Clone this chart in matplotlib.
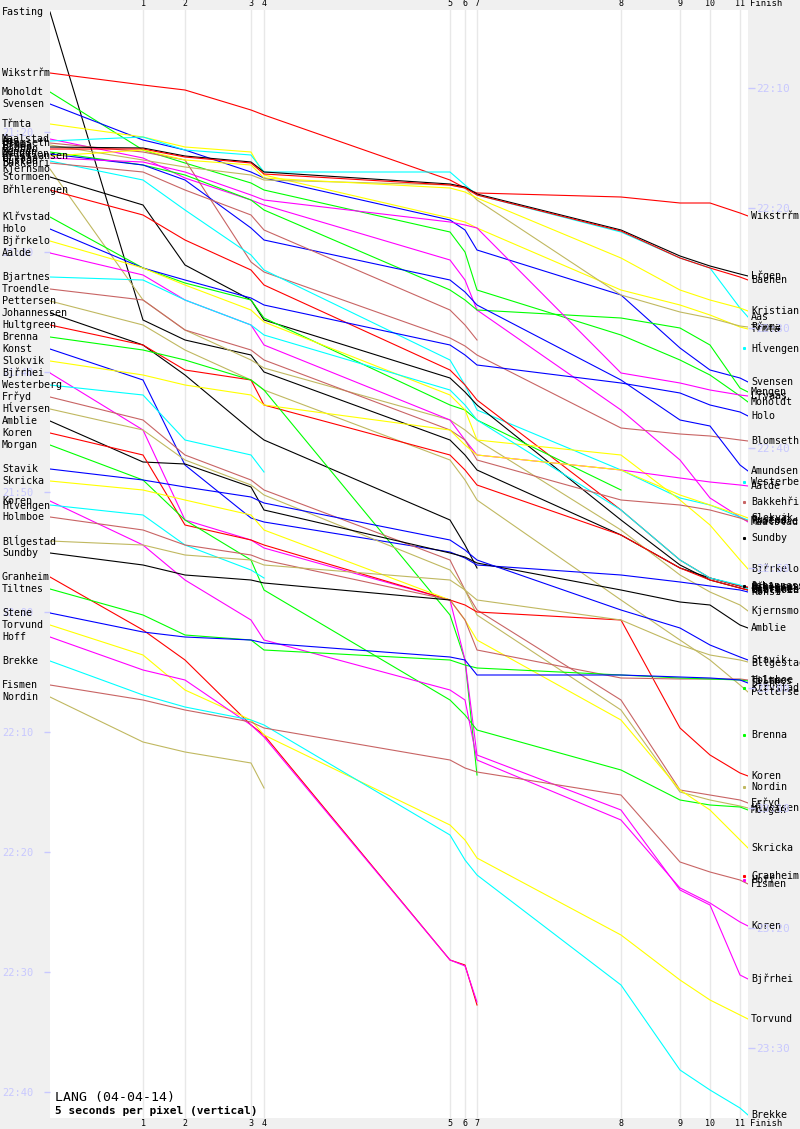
import matplotlib
matplotlib.use("Agg")
import matplotlib.pyplot as plt
from matplotlib.transforms import blended_transform_factory as btf

# ---- data -------------------------------------------------------------
controls = ["Start", "1", "2", "3", "4", "5", "6", "7", "8", "9", "10", "11", "Finish"]
control_pos = [0, 93, 135, 201, 214, 400, 415, 427, 571, 630, 660, 690, 698]

palette = ['#000000', '#ff0000', '#00ff00', '#0000ff', '#ffff00',
           '#ff00ff', '#00ffff', '#c86464', '#c0b860']

names = ["Fasting", "Wikstrřm", "Moholdt", "Svensen", "Třmta",
         "Maalstad", "Aas", "Blomseth", "Rřmma", "Lřgen", "Bachen", "Mengen",
         "Amundsen", "Kristiansen", "Lřvaas", "Rustad", "Bakkehři",
         "Kjernsmo", "Stormoen", "Břhlerengen", "Klřvstad", "Holo", "Bjřrkelo",
         "Aalde", "Bjartnes", "Troendle", "Pettersen", "Johannessen",
         "Hultgreen", "Brenna", "Konst", "Slokvik", "Bjřrhei", "Westerberg",
         "Frřyd", "Hĺversen", "Amblie", "Koren", "Morgan", "Stavik", "Skricka",
         "Koren", "Hĺvengen", "Holmboe", "Blĺgestad", "Sundby", "Granheim",
         "Tiltnes", "Stene", "Torvund", "Hoff", "Brekke", "Fismen", "Nordin"]

# clock time at each control, seconds after 21:09:00 (5 s per pixel)
splits = [
    [60, 1600, 1700, 1775, 1860, 2200, 2275, 2350, 2675, 2840, 2890, 2930, 2940],
    [365, 425, 450, 550, 575, 900, 940, 965, 985, 1015, 1015, 1065, 1080],
    [460, 750, 815, 915, 950, 1160, 1260, 1450, 1675, 1800, 1875, 1980, 2010],
    [520, 700, 750, 860, 890, 1100, 1150, 1250, 1475, 1740, 1850, 1890, 1910],
    [620, 685, 735, 760, 875, 1090, 1110, 1140, 1450, 1525, 1575, 1635, 1645],
    [695, 790, 890, 1000, 1025, 1300, 1400, 1550, 2050, 2300, 2490, 2585, 2610],
    [705, 685, 750, 775, 860, 860, 925, 975, 1160, 1290, 1340, 1540, 1585],
    [715, 760, 800, 1310, 1360, 1690, 1730, 1775, 2140, 2170, 2180, 2200, 2205],
    [725, 800, 835, 875, 900, 925, 940, 1000, 1475, 1560, 1590, 1630, 1635],
    [735, 740, 780, 810, 860, 920, 935, 970, 1150, 1280, 1330, 1370, 1380],
    [745, 745, 785, 815, 870, 925, 940, 975, 1155, 1290, 1340, 1385, 1400],
    [760, 825, 875, 1000, 1050, 1450, 1500, 1550, 1590, 1640, 1725, 1940, 1960],
    [770, 825, 900, 1140, 1200, 1400, 1460, 1525, 1900, 2100, 2130, 2325, 2355],
    [780, 750, 800, 825, 890, 940, 960, 990, 1290, 1450, 1500, 1540, 1555],
    [790, 810, 860, 975, 1000, 1110, 1125, 1140, 1865, 1915, 1950, 1975, 1980],
    [805, 900, 1050, 1275, 1350, 1800, 1925, 2050, 2350, 2490, 2525, 2585, 2600],
    [815, 860, 950, 1075, 1150, 1550, 1625, 1700],
    [845, 1500, 1650, 1800, 1840, 2100, 2150, 2200, 2650, 2875, 2960, 3025, 3055],
    [885, 1025, 1325, 1500, 1600, 1890, 1960, 2025, 2600, 2825, 2900, 2940, 2950],
    [950, 1075, 1200, 1350, 1425, 1850, 1925, 2000, 2550, 2800, 2890, 2930, 2935],
    [1085, 1340, 1415, 1500, 1590, 2025, 2050, 2100, 2450],
    [1145, 1340, 1400, 1490, 1525, 1725, 1775, 1825, 1915, 1965, 2025, 2060, 2080],
    [1205, 1340, 1425, 1550, 1610, 1975, 2050, 2200, 2275, 2500, 2625, 2800, 2845],
    [1265, 1375, 1500, 1625, 1725, 2100, 2200, 2275, 2350, 2390, 2410, 2425, 2430],
    [1385, 1400, 1500, 1625, 1675, 1950, 2025, 2100, 2550, 2800, 2890, 2925, 2945],
    [1445, 1500, 1650, 1750, 1800, 2150, 2200, 2300, 2500, 2525, 2550, 2590, 2605],
    [1505, 1625, 1750, 1900, 1950, 2300, 2400, 2500, 3000, 3200, 3300, 3425, 3460],
    [1565, 1725, 1875, 2150, 2200, 2600, 2725, 2840],
    [1625, 1725, 1850, 1900, 2025, 2275, 2350, 2425, 2675, 2840, 2900, 2940, 2950],
    [1685, 1750, 1800, 1900, 1950, 3075, 3300, 3875],
    [1745, 1900, 2325, 2590, 2610, 2760, 2790, 2825, 2875, 2910, 2930, 2950, 2960],
    [1805, 1875, 1925, 1975, 2025, 2150, 2225, 2275, 2350, 2475, 2525, 2575, 2590],
    [1865, 2150, 2600, 2700, 2740, 3000, 3300, 3775, 4050, 4450, 4525, 4875, 4895],
    [1925, 1975, 2200, 2275, 2360],
    [1985, 2100, 2275, 2400, 2450, 2800, 2950, 3050, 3500, 3950, 3975, 4000, 4015],
    [2045, 2150, 2300, 2425, 2475, 2850, 2950, 3075, 3550, 3960, 4000, 4030, 4040],
    [2105, 2310, 2320, 2435, 2550, 2765, 2785, 2815, 2950, 3010, 3025, 3125, 3140],
    [2165, 2275, 2625, 2700, 2725, 3000, 3025, 3060, 3100, 3640, 3775, 3865, 3880],
    [2225, 2400, 2600, 2800, 2950, 3500, 3575, 3650, 3850, 4000, 4025, 4035, 4050],
    [2345, 2400, 2435, 2485, 2515, 2700, 2750, 2800, 3050, 3140, 3225, 3285, 3300],
    [2405, 2450, 2500, 2575, 2650, 3000, 3100, 3200, 3600, 3950, 4050, 4200, 4240],
    [2505, 2725, 2900, 3100, 3200, 3450, 3500, 3800, 4100, 4440, 4515, 4610, 4630],
    [2525, 2575, 2725, 2850, 2890],
    [2585, 2650, 2725, 2775, 2800, 3000, 3100, 3250, 3390, 3395, 3395, 3395, 3400],
    [2705, 2725, 2775, 2800, 2825, 2900, 2950, 3000, 3100, 3225, 3275, 3300, 3310],
    [2765, 2825, 2875, 2900, 2915, 3000],
    [2885, 3150, 3300, 3625, 3675, 4800, 4825, 5025],
    [2945, 3075, 3175, 3200, 3250, 3300, 3325, 3340, 3375, 3390, 3395, 3400, 3405],
    [3065, 3160, 3185, 3200, 3215, 3285, 3300, 3375, 3375, 3385, 3390, 3400, 3415],
    [3125, 3275, 3450, 3600, 3675, 4125, 4200, 4290, 4675, 4900, 5000, 5075, 5095],
    [3185, 3350, 3400, 3625, 3685, 4800, 4830, 5010],
    [3305, 3475, 3535, 3600, 3625, 4175, 4300, 4375, 4925, 5350, 5450, 5540, 5575],
    [3425, 3500, 3550, 3610, 3640, 3800, 3840, 3860, 3975, 4310, 4360, 4400, 4420],
    [3485, 3710, 3760, 3815, 3940],
]

# right-hand label position for runners who did not finish
dnf_label_time = {"Bakkehři": 2510, "Klřvstad": 3440, "Johannessen": 2930,
                  "Brenna": 3675, "Westerberg": 2410, "Hĺvengen": 1740,
                  "Sundby": 2690, "Granheim": 4380, "Hoff": 4400, "Nordin": 3935}

left_ticks = ["21:20", "21:30", "21:40", "21:50", "22:00", "22:10", "22:20", "22:30", "22:40"]
left_tick_time = [660, 1260, 1860, 2460, 3060, 3660, 4260, 4860, 5460]
right_ticks = ["22:10", "22:20", "22:30", "22:40", "22:50", "23:00", "23:10", "23:20", "23:30"]
right_tick_time = [440, 1040, 1640, 2240, 2840, 3440, 4040, 4640, 5240]

title = "LANG (04-04-14)"
subtitle = "5 seconds per pixel (vertical)"

# ---- figure -----------------------------------------------------------
W, H = 800, 1129
fig = plt.figure(figsize=(W / 100, H / 100), dpi=100, facecolor='#f0f0f0')
ax = fig.add_axes([50 / W, 11 / H, 698 / W, 1108 / H])
ax.set_facecolor('white')
ax.set_xlim(0, 698)
ax.set_ylim(5590, 50)
for s in ax.spines.values():
    s.set_visible(False)

mono = 'DejaVu Sans Mono'
tick_col = '#c8c8ff'

for xp in control_pos[1:-1]:
    ax.axvline(xp, color='#e8e8e8', lw=1.0, zorder=0)

for i, (nm, sp) in enumerate(zip(names, splits)):
    col = palette[i % len(palette)]
    ax.plot(control_pos[:len(sp)], sp, color=col, lw=0.8, zorder=2,
            solid_joinstyle='miter')

ax.set_xticks([])
ax.set_yticks(left_tick_time)
ax.set_yticklabels(left_ticks)
ax.tick_params(axis='y', direction='out', length=4, width=1, color=tick_col,
               labelcolor=tick_col, labelsize=7.5, pad=8)
for lab in ax.get_yticklabels():
    lab.set_family(mono)

axr = ax.twinx()
axr.set_ylim(ax.get_ylim())
for s in axr.spines.values():
    s.set_visible(False)
axr.set_yticks(right_tick_time)
axr.set_yticklabels(right_ticks)
axr.tick_params(axis='y', direction='out', length=5, width=1, color=tick_col,
                labelcolor=tick_col, labelsize=8, pad=1)
for lab in axr.get_yticklabels():
    lab.set_family(mono)

tl = btf(fig.transFigure, ax.transData)
for i, (nm, sp) in enumerate(zip(names, splits)):
    col = palette[i % len(palette)]
    ax.text(2 / W, sp[0], nm, transform=tl, fontsize=7.2, family=mono,
            ha='left', va='center', color='black', zorder=5, clip_on=False)
    if len(sp) == len(control_pos):
        yr = sp[-1]
    else:
        yr = dnf_label_time[nm]
        ax.plot([694], [yr], marker='s', ms=1.2, color=col, mec=col,
                clip_on=False, zorder=4)
    ax.text(751 / W, yr, nm, transform=tl, fontsize=7.2, family=mono,
            ha='left', va='center', color='black', zorder=5, clip_on=False)

tc = btf(ax.transData, fig.transFigure)
for lab, xp in zip(controls[1:-1], control_pos[1:-1]):
    for yy in (1 - 4 / H, 6 / H):
        ax.text(xp, yy, lab, transform=tc, fontsize=6, family=mono,
                ha='center', va='center', clip_on=False)
for yy in (1 - 4 / H, 6 / H):
    ax.text(control_pos[-1] + 2, yy, controls[-1], transform=tc, fontsize=6.5,
            family=mono, ha='left', va='center', clip_on=False)

fig.text(55 / W, 1 - 1098 / H, title, fontsize=9.5, family=mono,
         ha='left', va='center')
fig.text(55 / W, 1 - 1111 / H, subtitle, fontsize=8, family=mono,
         weight='bold', ha='left', va='center')

fig.savefig("out.png", dpi=100, facecolor=fig.get_facecolor())
